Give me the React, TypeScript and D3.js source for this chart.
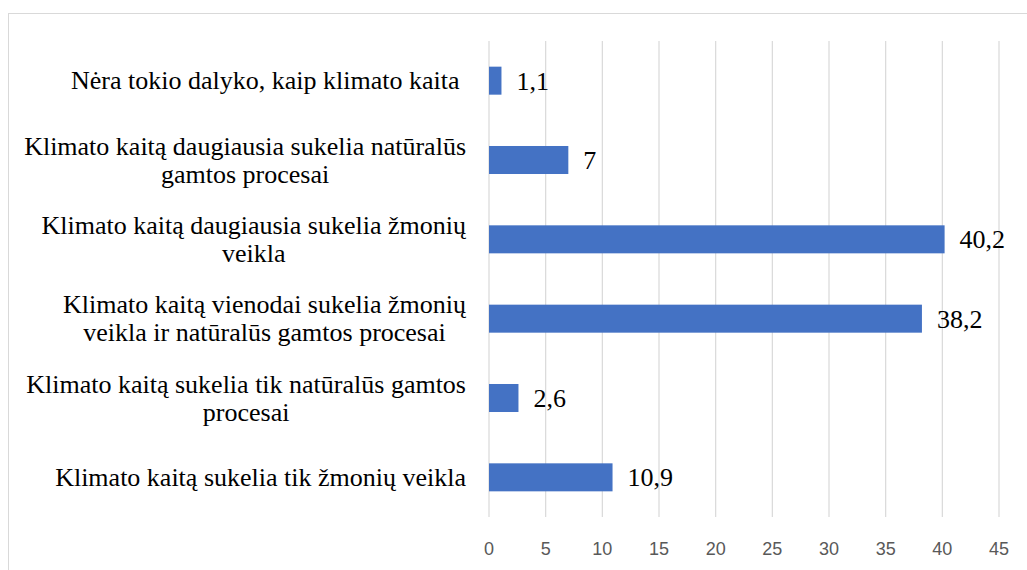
import React, { useEffect, useRef } from "react";
import * as d3 from "d3";

const categories: string[] = [
  "Nėra tokio dalyko, kaip klimato kaita ",
  "Klimato kaitą daugiausia sukelia natūralūs\ngamtos procesai",
  "Klimato kaitą daugiausia sukelia žmonių\nveikla",
  "Klimato kaitą vienodai sukelia žmonių\nveikla ir natūralūs gamtos procesai",
  "Klimato kaitą sukelia tik natūralūs gamtos\nprocesai",
  "Klimato kaitą sukelia tik žmonių veikla",
];
const values: number[] = [1.1, 7, 40.2, 38.2, 2.6, 10.9];
const tickValues: number[] = [0, 5, 10, 15, 20, 25, 30, 35, 40, 45];

const W = 1027;
const H = 570;

export default function App() {
  const ref = useRef<SVGSVGElement | null>(null);

  useEffect(() => {
    const svg = d3.select(ref.current);
    svg.selectAll("*").remove();

    const plotLeft = 489;
    const plotRight = 999;
    const plotTop = 41;
    const plotBottom = 517;

    const x = d3.scaleLinear().domain([0, 45]).range([plotLeft, plotRight]);
    const y = d3
      .scaleBand<string>()
      .domain(categories)
      .range([plotTop, plotBottom])
      .paddingInner(0.647)
      .paddingOuter(0.3235);

    // chart border
    svg
      .append("rect")
      .attr("x", 8.5)
      .attr("y", 13.5)
      .attr("width", 1040)
      .attr("height", 600)
      .attr("fill", "white")
      .attr("stroke", "#d9d9d9")
      .attr("stroke-width", 1);

    // gridlines
    svg
      .append("g")
      .selectAll("line")
      .data(tickValues)
      .join("line")
      .attr("x1", (d) => x(d))
      .attr("x2", (d) => x(d))
      .attr("y1", plotTop)
      .attr("y2", plotBottom)
      .attr("stroke", "#d9d9d9")
      .attr("stroke-width", 1.2);

    // tick labels
    svg
      .append("g")
      .selectAll("text")
      .data(tickValues)
      .join("text")
      .attr("x", (d) => x(d))
      .attr("y", 555)
      .attr("text-anchor", "middle")
      .attr("font-family", "'Liberation Sans', Arial, sans-serif")
      .attr("font-size", 18)
      .attr("fill", "#595959")
      .text((d) => String(d));

    // bars
    svg
      .append("g")
      .selectAll("rect")
      .data(values)
      .join("rect")
      .attr("x", x(0))
      .attr("y", (_, i) => y(categories[i]) as number)
      .attr("width", (d) => x(d) - x(0))
      .attr("height", y.bandwidth())
      .attr("fill", "#4472C4");

    const serif = "'Liberation Serif', 'Times New Roman', serif";

    // value labels
    svg
      .append("g")
      .selectAll("text")
      .data(values)
      .join("text")
      .attr("x", (d) => x(d) + 15)
      .attr("y", (_, i) => (y(categories[i]) as number) + y.bandwidth() / 2 + 9)
      .attr("font-family", serif)
      .attr("font-size", 26)
      .attr("fill", "#000")
      .text((d) => String(d).replace(".", ","));

    // category labels
    const labelRight = 466;
    const lineH = 28;
    const catG = svg.append("g");
    categories.forEach((cat) => {
      const lines = cat.split("\n");
      const cy = (y(cat) as number) + y.bandwidth() / 2;
      const t = catG
        .append("text")
        .attr("font-family", serif)
        .attr("font-size", 26)
        .attr("fill", "#000")
        .attr("text-anchor", "middle")
        .style("white-space", "pre");
      const tspans = lines.map((ln, j) =>
        t
          .append("tspan")
          .attr("y", cy + 8.7 - ((lines.length - 1) * lineH) / 2 + j * lineH)
          .text(ln)
      );
      const widths = tspans.map((ts) => (ts.node() as SVGTextContentElement).getComputedTextLength());
      const maxW = Math.max(...widths);
      const cx = labelRight - maxW / 2;
      tspans.forEach((ts) => ts.attr("x", cx));
    });
  }, []);

  return (
    <svg
      ref={ref}
      width={W}
      height={H}
      style={{ position: "absolute", left: 0, top: 0, background: "white" }}
    />
  );
}
